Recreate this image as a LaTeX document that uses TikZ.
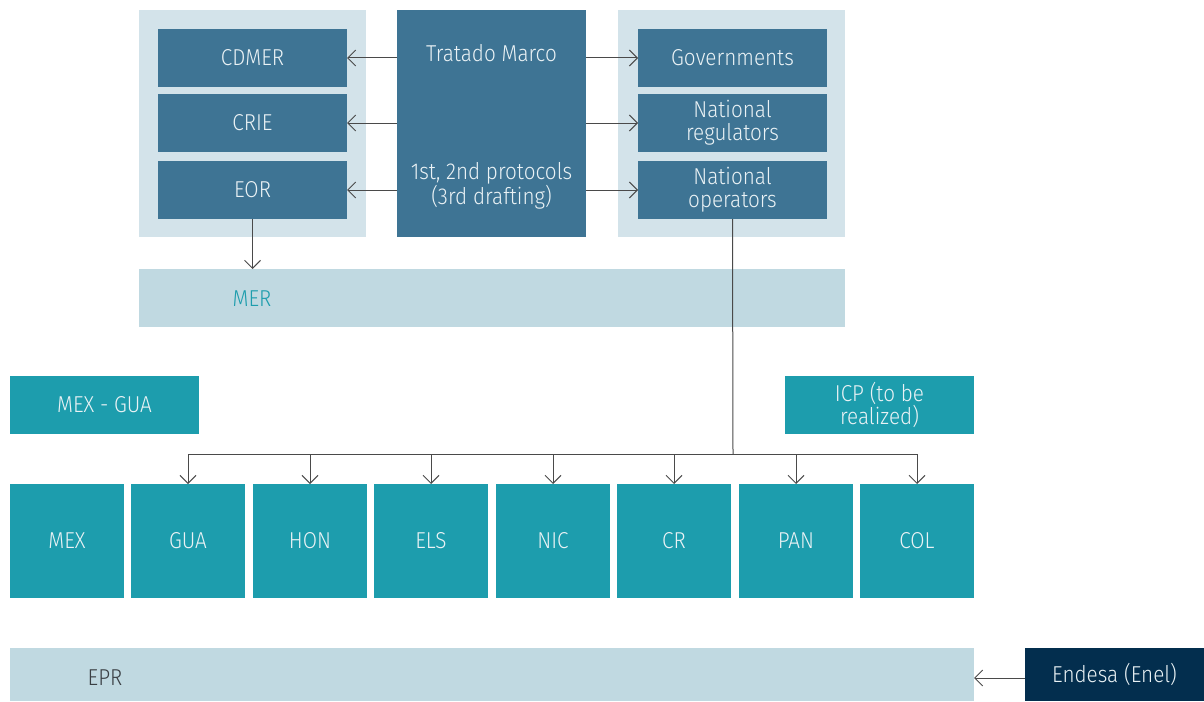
\documentclass[tikz,border=0pt]{standalone}
\usepackage{fontspec}
\setmainfont{Fira Sans Light}[FakeStretch=0.9]
\usetikzlibrary{arrows.meta}
\definecolor{steel}{HTML}{3E7494}
\definecolor{panel}{HTML}{D3E3EA}
\definecolor{band}{HTML}{C0D9E1}
\definecolor{teal}{HTML}{1D9DAD}
\definecolor{navy}{HTML}{032E4E}
\definecolor{boxtext}{HTML}{EAF2F5}
\definecolor{wire}{HTML}{4A4A4A}
\definecolor{eprtext}{HTML}{3A3F44}
\begin{document}
\begin{tikzpicture}[x=1pt,y=-1pt,
  every node/.style={inner sep=0pt,outer sep=0pt,font=\fontsize{23}{23}\selectfont,align=center},
  blockbox/.style={rectangle,fill=steel,text=boxtext,minimum width=189pt,minimum height=58pt},
  panelbox/.style={rectangle,fill=panel,minimum width=227pt,minimum height=227pt},
  bandbox/.style={rectangle,fill=band},
  tealbox/.style={rectangle,fill=teal,text=boxtext},
  country/.style={tealbox,minimum width=114pt,minimum height=114pt},
  arr/.style={draw=wire,line width=1pt,-{Straight Barb[length=8pt,width=16pt,line width=1pt]}},
  wireline/.style={draw=wire,line width=1pt}]
\useasboundingbox (0,0) rectangle (1204,701);

% upper panels
\node[panelbox] (lpanel) at (252.5,123.5) {};
\node[panelbox] (rpanel) at (731.5,123.5) {};
\node[rectangle,fill=steel,minimum width=189pt,minimum height=227pt] (treaty) at (491.5,123.5) {};
\node[text=boxtext] (treatytop) at (491.5,53) {Tratado Marco};
\node[text=boxtext] (treatybot) at (491.5,186) {1st, 2nd protocols\\(3rd drafting)};

\node[blockbox] (cdmer) at (252.5,58) {CDMER};
\node[blockbox] (crie)  at (252.5,123) {CRIE};
\node[blockbox] (eor)   at (252.5,190) {EOR};
\node[blockbox] (gov)   at (732.5,58) {Governments};
\node[blockbox] (natreg) at (732.5,123) {National\\regulators};
\node[blockbox] (natop) at (732.5,190) {National\\operators};

\draw[arr] (treaty.west |- cdmer) -- (cdmer.east);
\draw[arr] (treaty.west |- crie) -- (crie.east);
\draw[arr] (treaty.west |- eor) -- (eor.east);
\draw[arr] (treaty.east |- gov) -- (gov.west);
\draw[arr] (treaty.east |- natreg) -- (natreg.west);
\draw[arr] (treaty.east |- natop) -- (natop.west);

% MER band
\node[bandbox,minimum width=706pt,minimum height=58pt] (mer) at (492,298) {};
\node[text=teal] (merlabel) at (252,299) {MER};
\draw[arr] (eor.south) -- (eor.south |- mer.north);

% interconnections
\node[tealbox,minimum width=189pt,minimum height=58pt] (mexgua) at (104.5,405) {MEX - GUA};
\node[tealbox,minimum width=189pt,minimum height=58pt] (icp) at (879.5,405) {ICP (to be\\realized)};

% country systems
\node[country] (mex) at (67,541) {MEX};
\node[country] (gua) at (188,541) {GUA};
\node[country] (hon) at (310,541) {HON};
\node[country] (els) at (431,541) {ELS};
\node[country] (nic) at (553,541) {NIC};
\node[country] (cr)  at (674,541) {CR};
\node[country] (pan) at (796,541) {PAN};
\node[country] (col) at (917,541) {COL};

\coordinate (bus) at (733,454);
\draw[wireline] (natop.south) -- (bus);
\draw[wireline] (gua.north |- bus) -- (col.north |- bus);
\foreach \c in {gua,hon,els,nic,cr,pan,col}
  \draw[arr] (\c.north |- bus) -- (\c.north);

% EPR band and owner
\node[bandbox,minimum width=964pt,minimum height=53pt] (epr) at (492,674.5) {};
\node[text=eprtext] (eprlabel) at (105,678) {EPR};
\node[rectangle,fill=navy,text=boxtext,minimum width=179pt,minimum height=53pt] (endesa) at (1114.5,674.5) {Endesa (Enel)};
\draw[arr] (endesa.west |- 0,678) -- (epr.east |- 0,678);
\end{tikzpicture}
\end{document}
